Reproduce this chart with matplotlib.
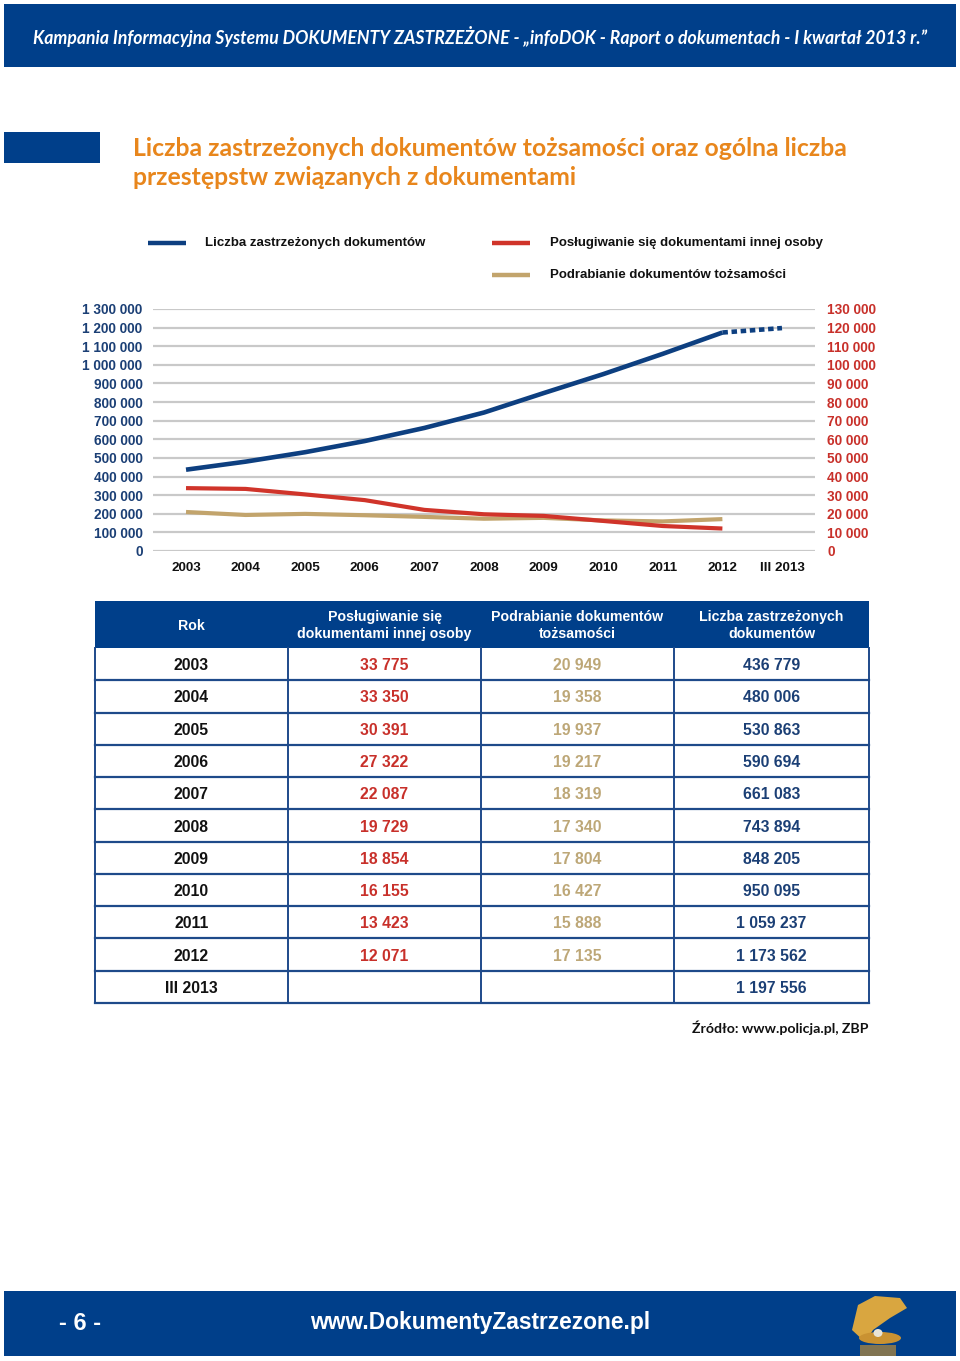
import matplotlib
matplotlib.use("Agg")
import matplotlib.pyplot as plt
from matplotlib.patches import Rectangle, Polygon, Ellipse
from matplotlib.ticker import FuncFormatter

# ---------------- data ----------------
categories = ["2003", "2004", "2005", "2006", "2007", "2008", "2009", "2010", "2011", "2012", "III 2013"]
zastrzezone = [436779, 480006, 530863, 590694, 661083, 743894, 848205, 950095, 1059237, 1173562, 1197556]
poslugiwanie = [33775, 33350, 30391, 27322, 22087, 19729, 18854, 16155, 13423, 12071]
podrabianie = [20949, 19358, 19937, 19217, 18319, 17340, 17804, 16427, 15888, 17135]

left_ticks = list(range(0, 1300001, 100000))
right_ticks = list(range(0, 130001, 10000))

legend_labels = ["Liczba zastrzeżonych dokumentów",
                 "Posługiwanie się dokumentami innej osoby",
                 "Podrabianie dokumentów tożsamości"]
table_headers = ["Rok", "Posługiwanie się\ndokumentami innej osoby",
                 "Podrabianie dokumentów\ntożsamości", "Liczba zastrzeżonych\ndokumentów"]

header_text = "Kampania Informacyjna Systemu DOKUMENTY ZASTRZEŻONE - \u201einfoDOK - Raport o dokumentach - I kwartał 2013 r.\u201d"
title_lines = ["Liczba zastrzeżonych dokumentów tożsamości oraz ogólna liczba",
               "przestępstw związanych z dokumentami"]
source_text = "Źródło: www.policja.pl, ZBP"
page_text = "- 6 -"
site_text = "www.DokumentyZastrzezone.pl"

# ---------------- style ----------------
BLUE = "#0d3f80"
NAVY = "#003f8a"
RED = "#d0342a"
TAN = "#c2a46c"
TAN_TXT = "#bda777"
ORANGE = "#e8861c"
TICK_BLUE = "#1b3f75"
TICK_RED = "#c8302a"
GRID = "#c9c9c9"
FONT = ["Liberation Sans", "DejaVu Sans"]

W, H = 960, 1361
fig = plt.figure(figsize=(W / 100, H / 100), dpi=100)
fig.patch.set_facecolor("white")

ov = fig.add_axes([0, 0, 1, 1])
ov.set_xlim(0, W)
ov.set_ylim(H, 0)
ov.axis("off")
ov.set_zorder(0)

def fmt_num(v):
    return f"{int(v):,}".replace(",", " ")

# header bar
ov.add_patch(Rectangle((4, 4), 952, 63, color=NAVY, lw=0))
ov.text(480, 36, header_text, color="white", fontsize=12.7, style="italic",
        fontweight="bold", family=["Lato", "DejaVu Sans"], ha="center", va="center")

# title
ov.add_patch(Rectangle((4, 132), 96, 31, color=NAVY, lw=0))
ov.text(133, 148, title_lines[0], color=ORANGE, fontsize=17.8, fontweight="bold",
        family=["Lato", "DejaVu Sans"], ha="left", va="center")
ov.text(133, 177, title_lines[1], color=ORANGE, fontsize=17.8, fontweight="bold",
        family=["Lato", "DejaVu Sans"], ha="left", va="center")

# legend
leg = [((148, 186, 243), 205, BLUE, legend_labels[0]),
       ((492, 530, 243), 550, RED, legend_labels[1]),
       ((492, 530, 275), 550, TAN, legend_labels[2])]
for (x0, x1, y), tx, c, lab in leg:
    ov.plot([x0, x1], [y, y], color=c, lw=3.2, solid_capstyle="butt")
    ov.text(tx, y, lab, fontsize=9.5, fontweight="bold", family=FONT,
            ha="left", va="center", color="#111111")

# ---------------- chart ----------------
x0p, x1p, ytop, ybot = 153, 815, 309, 551
ax = fig.add_axes([x0p / W, 1 - ybot / H, (x1p - x0p) / W, (ybot - ytop) / H])
ax.set_zorder(2)
ax.patch.set_alpha(0)
xs = list(range(len(categories)))
ax.set_xlim(-0.554, len(categories) - 1 + 0.554)
ax.set_ylim(0, 1300000)
ax.set_yticks(left_ticks)
ax.yaxis.set_major_formatter(FuncFormatter(lambda v, p: fmt_num(v)))
ax.set_xticks(xs)
ax.set_xticklabels(categories)
ax.grid(axis="y", color=GRID, lw=1.6)
ax.set_axisbelow(True)
for s in ax.spines.values():
    s.set_visible(False)
ax.tick_params(axis="both", length=0)
ax.tick_params(axis="y", pad=7.5, labelcolor=TICK_BLUE, labelsize=9.8)
ax.tick_params(axis="x", pad=8, labelcolor="#111111", labelsize=9.7)
for lab in ax.get_yticklabels() + ax.get_xticklabels():
    lab.set_fontweight("bold")
    lab.set_family(FONT)

ax2 = ax.twinx()
ax2.set_ylim(0, 130000)
ax2.set_yticks(right_ticks)
ax2.yaxis.set_major_formatter(FuncFormatter(lambda v, p: fmt_num(v)))
for s in ax2.spines.values():
    s.set_visible(False)
ax2.tick_params(axis="y", length=0, pad=9, labelcolor=TICK_RED, labelsize=9.8)
for lab in ax2.get_yticklabels():
    lab.set_fontweight("bold")
    lab.set_family(FONT)

ax2.plot(xs[:len(podrabianie)], podrabianie, color=TAN, lw=3.0, solid_capstyle="butt")
ax2.plot(xs[:len(poslugiwanie)], poslugiwanie, color=RED, lw=3.0, solid_capstyle="butt")
ax2.plot(xs[:10], zastrzezone[:10], color=BLUE, lw=3.3, solid_capstyle="butt",
         solid_joinstyle="round", transform=ax.transData)
ax2.plot(xs[9:], zastrzezone[9:], color=BLUE, lw=3.3, dashes=(1.2, 0.8),
         dash_capstyle="butt", transform=ax.transData)

# ---------------- table ----------------
col_edges = [95, 288, 481, 674, 869]
head_top, head_bot = 601, 648
n_rows = len(categories)
row_h = (1003 - head_bot) / n_rows
ov.add_patch(Rectangle((col_edges[0], head_top), col_edges[-1] - col_edges[0],
                       head_bot - head_top, color=NAVY, lw=0, zorder=1))
for i, h in enumerate(table_headers):
    cx = (col_edges[i] + col_edges[i + 1]) / 2
    ov.text(cx, (head_top + head_bot) / 2 + 1, h, color="white", fontsize=10.2,
            fontweight="bold", family=FONT, ha="center", va="center",
            linespacing=1.2, zorder=3)

line_c = "#1e4a8a"
table_bot = head_bot + n_rows * row_h
for e in col_edges:
    ov.plot([e, e], [head_bot, table_bot], color=line_c, lw=1.4, zorder=2)
for r in range(1, n_rows + 1):
    y = head_bot + r * row_h
    ov.plot([col_edges[0], col_edges[-1]], [y, y], color=line_c, lw=1.6, zorder=2)

def cell(val):
    return fmt_num(val) if val is not None else ""

for r in range(n_rows):
    cy = head_bot + (r + 0.5) * row_h + 1.5
    vals = [categories[r],
            cell(poslugiwanie[r]) if r < len(poslugiwanie) else "",
            cell(podrabianie[r]) if r < len(podrabianie) else "",
            cell(zastrzezone[r])]
    colors = ["#111111", TICK_RED, TAN_TXT, TICK_BLUE]
    for c in range(4):
        cx = (col_edges[c] + col_edges[c + 1]) / 2
        ov.text(cx, cy, vals[c], color=colors[c], fontsize=11.3, fontweight="bold",
                family=FONT, ha="center", va="center", zorder=3)

ov.text(868, 1028, source_text, fontsize=10.2, fontweight="bold",
        family=["Lato", "DejaVu Sans"], ha="right", va="center", color="#111111")

# ---------------- footer ----------------
ov.add_patch(Rectangle((4, 1291), 952, 65, color=NAVY, lw=0))
ov.text(80, 1324, page_text, color="white", fontsize=17, fontweight="bold",
        family=["Liberation Sans Narrow", "Liberation Sans"], ha="center", va="center")
ov.text(480, 1323, site_text, color="white", fontsize=16.4, fontweight="bold",
        family=["Liberation Sans Narrow", "Liberation Sans"], ha="center", va="center")
# simple pearl-shell emblem
ov.add_patch(Polygon([(852, 1330), (858, 1305), (875, 1296), (900, 1298), (907, 1308),
                      (890, 1318), (873, 1330), (865, 1342)], closed=True,
                     color="#d9a640", lw=0))
ov.add_patch(Ellipse((880, 1338), 42, 12, color="#c99232", lw=0))
ov.add_patch(Ellipse((878, 1333), 9, 8, color="#e9e4d6", lw=0))
ov.add_patch(Rectangle((860, 1345), 36, 11, color="#b98b3a", lw=0, alpha=0.7))

fig.savefig("out.png", dpi=100, facecolor="white")
